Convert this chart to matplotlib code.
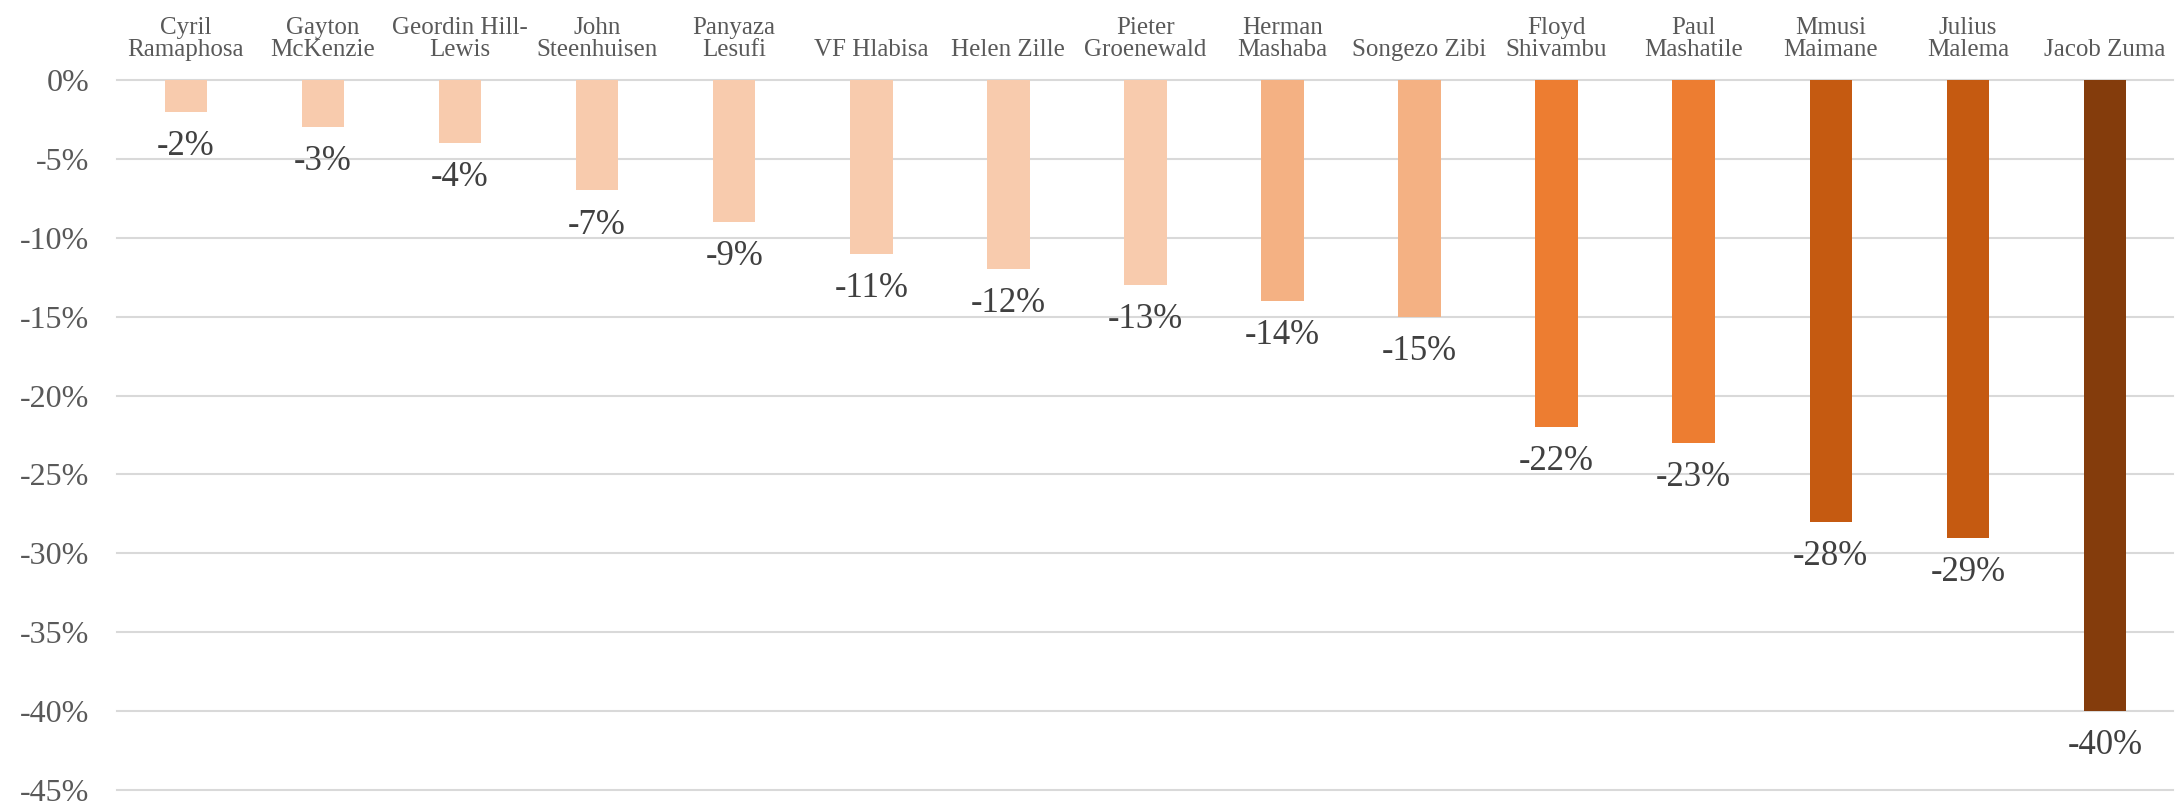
import matplotlib
matplotlib.use("Agg")
import matplotlib.pyplot as plt
from matplotlib.ticker import FuncFormatter

names = ["Cyril\nRamaphosa", "Gayton\nMcKenzie", "Geordin Hill-\nLewis", "John\nSteenhuisen",
         "Panyaza\nLesufi", "VF Hlabisa", "Helen Zille", "Pieter\nGroenewald", "Herman\nMashaba",
         "Songezo Zibi", "Floyd\nShivambu", "Paul\nMashatile", "Mmusi\nMaimane", "Julius\nMalema",
         "Jacob Zuma"]
values = [-2, -3, -4, -7, -9, -11, -12, -13, -14, -15, -22, -23, -28, -29, -40]
colors = ["#F8CBAD"] * 8 + ["#F4B183"] * 2 + ["#ED7D31"] * 2 + ["#C55A11"] * 2 + ["#843C0C"]
yticks = [0, -5, -10, -15, -20, -25, -30, -35, -40, -45]

plt.rcParams['font.family'] = ['Liberation Serif', 'DejaVu Serif']

fig = plt.figure(figsize=(21.78, 8.06), dpi=100)
ax = fig.add_axes([0.0539, 0.0199, 0.944, 0.8808])

x = range(len(values))
ax.bar(x, values, width=0.31, color=colors, zorder=3)

for xi, v in zip(x, values):
    ax.annotate(f"{v}%", (xi, v), xytext=(0, -13), textcoords="offset points",
                ha="center", va="top", fontsize=25, color="#404040")

ax.set_xlim(-0.5, len(values) - 0.5)
ax.set_ylim(-45, 0)
ax.set_yticks(yticks)
ax.yaxis.set_major_formatter(FuncFormatter(lambda v, p: f"{int(round(v))}%"))
ax.tick_params(axis="y", length=0, pad=20, labelsize=23, labelcolor="#595959")
for t in yticks:
    ax.axhline(t, color="#D9D9D9", linewidth=1.5, zorder=1, clip_on=False)

ax.xaxis.tick_top()
ax.set_xticks(list(x))
ax.set_xticklabels(names, fontsize=18, color="#595959", linespacing=1.0)
ax.tick_params(axis="x", length=0, pad=14)

for s in ax.spines.values():
    s.set_visible(False)

fig.savefig("out.png", dpi=100)
